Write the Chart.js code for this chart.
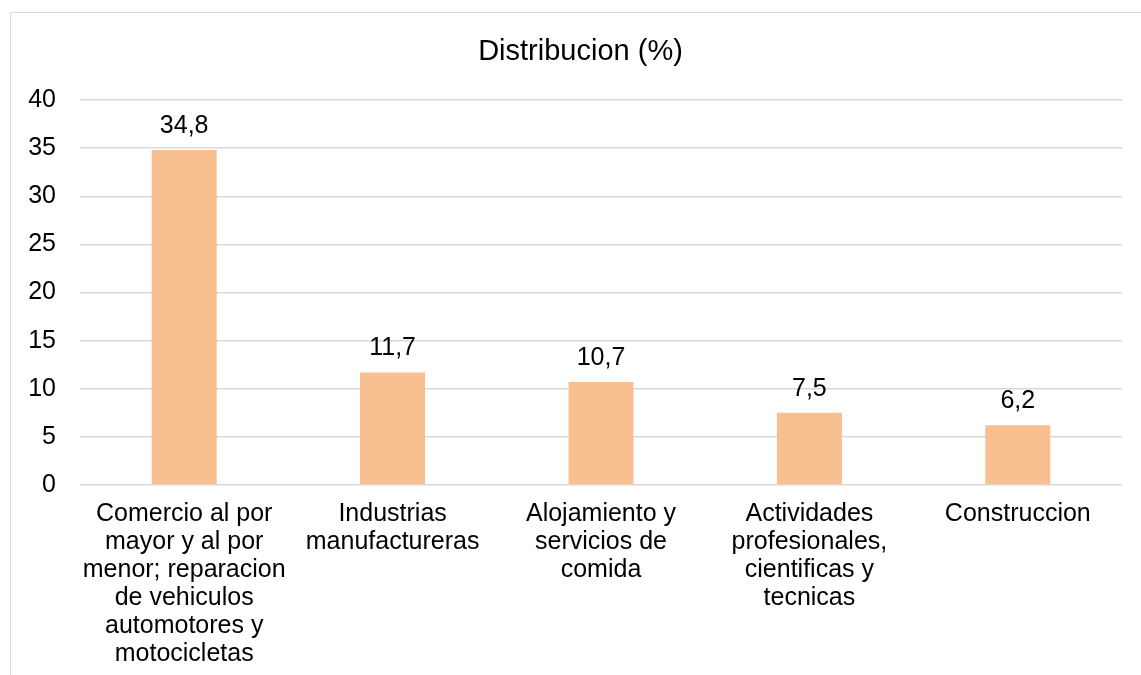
<!DOCTYPE html>
<html>
<head>
<meta charset="utf-8">
<title>Distribucion (%)</title>
<script src="https://cdn.jsdelivr.net/npm/chart.js@4/dist/chart.umd.min.js"></script>
<style>
  html, body { margin: 0; padding: 0; background: #fff; overflow: hidden; }
  #frame {
    position: absolute; left: 10px; top: 12px;
    width: 1200px; height: 800px;
    border: 1px solid #d9d9d9;
  }
  #distChart { position: absolute; left: 0; top: 0; }
</style>
</head>
<body>
<div id="frame"></div>
<canvas id="distChart" width="1141" height="675"></canvas>
<script>
// sectors, one array of lines per label
const categories = [
    ['Comercio al por', 'mayor y al por', 'menor; reparacion', 'de vehiculos', 'automotores y', 'motocicletas'],
    ['Industrias', 'manufactureras'],
    ['Alojamiento y', 'servicios de', 'comida'],
    ['Actividades', 'profesionales,', 'cientificas y', 'tecnicas'],
    ['Construccion']
];
const distribucion = [34.8, 11.7, 10.7, 7.5, 6.2];
const yMin = 0;
const yMax = 40;
const yStep = 5;
const chartTitle = 'Distribucion (%)';

const FONT = '"Liberation Sans", Arial, sans-serif';

// title is centred on the outer frame, not on the plot
const frameTitle = {
    id: 'frameTitle',
    afterDraw(chart) {
        const c = chart.ctx;
        c.save();
        c.font = '29px ' + FONT;
        c.fillStyle = '#000';
        c.textAlign = 'center';
        c.textBaseline = 'alphabetic';
        c.fillText(chartTitle, 580.5, 60);
        c.restore();
    }
};

// writes the value above each bar, with a decimal comma
const barValues = {
    id: 'barValues',
    afterDatasetsDraw(chart) {
        const c = chart.ctx;
        const meta = chart.getDatasetMeta(0);
        c.save();
        c.font = '25px ' + FONT;
        c.fillStyle = '#000';
        c.textAlign = 'center';
        c.textBaseline = 'alphabetic';
        meta.data.forEach((bar, i) => {
            const txt = distribucion[i].toFixed(1).replace('.', ',');
            c.fillText(txt, bar.x, bar.y - 17);
        });
        c.restore();
    }
};

const ctx = document.getElementById('distChart').getContext('2d');
const distChart = new Chart(ctx, {
    type: 'bar',
    data: {
        labels: categories,
        datasets: [{
            label: chartTitle,
            backgroundColor: '#F8C090',
            data: distribucion,
            categoryPercentage: 1,
            barPercentage: 0.312
        }]
    },
    options: {
        responsive: false,
        animation: false,
        layout: { padding: { left: 10, right: 19, top: 100, bottom: 0 } },
        plugins: {
            legend: { display: false },
            tooltip: { enabled: false },
            title: { display: false }
        },
        scales: {
            x: {
                grid: { display: false, drawTicks: false },
                border: { display: false },
                ticks: {
                    color: '#000',
                    padding: 15,
                    maxRotation: 0,
                    autoSkip: false,
                    font: { family: FONT, size: 25, lineHeight: 1.12 }
                },
                afterFit(scale) { scale.height = 190; }
            },
            y: {
                min: yMin,
                max: yMax,
                grid: { color: '#d9d9d9', lineWidth: 1.5, drawTicks: false },
                border: { display: false },
                ticks: {
                    stepSize: yStep,
                    color: '#000',
                    padding: 24,
                    font: { family: FONT, size: 25 }
                },
                afterFit(scale) { scale.width = 70; }
            }
        }
    },
    plugins: [barValues, frameTitle]
});
</script>
</body>
</html>
